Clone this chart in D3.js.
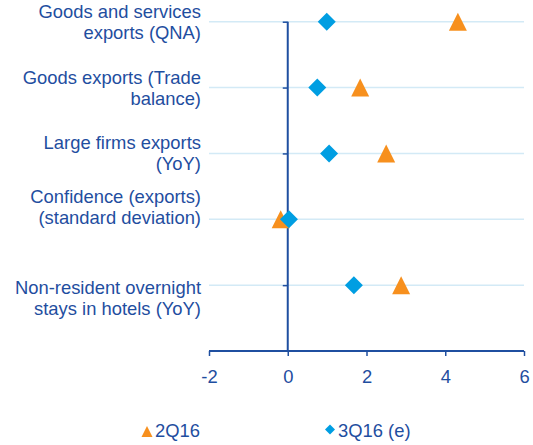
<!DOCTYPE html>
<html>
<head>
<meta charset="utf-8">
<script src="https://cdn.jsdelivr.net/npm/d3@7"></script>
<style>
  html, body { margin: 0; padding: 0; background: #fff; }
  svg { display: block; font-family: "Liberation Sans", Arial, sans-serif; }
</style>
</head>
<body>
<svg id="chart"></svg>
<script>
// data
const categories = [
  ["Goods and services", "exports (QNA)"],
  ["Goods exports (Trade", "balance)"],
  ["Large firms exports", "(YoY)"],
  ["Confidence (exports)", "(standard deviation)"],
  ["Non-resident overnight", "stays in hotels (YoY)"]
];
const seriesNames = ["2Q16", "3Q16 (e)"];
const values2Q16 = [4.32, 1.84, 2.50, -0.18, 2.88];
const values3Q16 = [0.99, 0.75, 1.05, 0.03, 1.68];
const xTicks = [-2, 0, 2, 4, 6];

// layout
const width = 533, height = 445;
const labelDy = [-3.5, -3.5, -4.5, -16, 9];   // first line baseline vs row line
const lineGap = 21;
const fontSize = 18.4;
const textColor = "#1f4e9f";
const axisColor = "#1f4fa0";
const gridColor = "#d3eaf6";
const orange = "#f7901e";
const blue = "#009ee2";

const svg = d3.select("#chart")
  .attr("width", width)
  .attr("height", height);

const x = d3.scaleLinear().domain([-2, 6]).range([209, 524]);
const y = d3.scaleLinear().domain([0, categories.length]).range([351, 21.7]);
const rowY = i => y(categories.length - i);

// triangle with equal width and height, centered on its box
const triangle = {
  draw(ctx, size) {
    const s = Math.sqrt(size) / 2;
    ctx.moveTo(0, -s);
    ctx.lineTo(s, s);
    ctx.lineTo(-s, s);
    ctx.closePath();
  }
};
const diamond = {
  draw(ctx, size) {
    const s = Math.sqrt(size) / 2;
    ctx.moveTo(0, -s);
    ctx.lineTo(s, 0);
    ctx.lineTo(0, s);
    ctx.lineTo(-s, 0);
    ctx.closePath();
  }
};

// gridlines
svg.append("g")
  .selectAll("line")
  .data(categories)
  .join("line")
  .attr("x1", x(-2))
  .attr("x2", x(6))
  .attr("y1", (d, i) => rowY(i))
  .attr("y2", (d, i) => rowY(i))
  .attr("stroke", gridColor)
  .attr("stroke-width", 1.5);

// vertical axis at zero
const yAxis = svg.append("g")
  .attr("transform", `translate(${x(0)},0)`)
  .call(d3.axisLeft(y).tickValues(d3.range(1, categories.length + 1)).tickSize(5).tickFormat(""));
yAxis.select(".domain").remove();
yAxis.selectAll(".tick line").attr("stroke", axisColor).attr("stroke-width", 1.5);
yAxis.append("line")
  .attr("y1", y(categories.length))
  .attr("y2", y(0))
  .attr("stroke", axisColor)
  .attr("stroke-width", 2);

// horizontal axis
const xAxis = svg.append("g")
  .attr("transform", `translate(0,${y(0)})`)
  .call(d3.axisBottom(x).tickValues(xTicks).tickSize(5).tickPadding(14).tickFormat(d => String(d)));
xAxis.select(".domain")
  .attr("d", `M${x(-2)},0H${x(6)}`)
  .attr("stroke", axisColor)
  .attr("stroke-width", 2);
xAxis.selectAll(".tick line").attr("stroke", axisColor).attr("stroke-width", 1.5);
xAxis.selectAll(".tick text")
  .attr("fill", textColor)
  .attr("font-size", fontSize)
  .attr("font-family", "Liberation Sans, Arial, sans-serif");

// category labels
const labels = svg.append("g")
  .selectAll("text")
  .data(categories)
  .join("text")
  .attr("text-anchor", "end")
  .attr("fill", textColor)
  .attr("font-size", fontSize)
  .attr("x", 201)
  .attr("y", (d, i) => rowY(i) + labelDy[i]);
labels.selectAll("tspan")
  .data(d => d)
  .join("tspan")
  .attr("x", 201)
  .attr("dy", (d, j) => j === 0 ? 0 : lineGap)
  .text(d => d);

// markers
svg.append("g")
  .selectAll("path")
  .data(values2Q16)
  .join("path")
  .attr("d", d3.symbol().type(triangle).size(18 * 18))
  .attr("transform", (d, i) => `translate(${x(d)},${rowY(i)})`)
  .attr("fill", orange);

svg.append("g")
  .selectAll("path")
  .data(values3Q16)
  .join("path")
  .attr("d", d3.symbol().type(diamond).size(18 * 18))
  .attr("transform", (d, i) => `translate(${x(d)},${rowY(i)})`)
  .attr("fill", blue);

// legend
const legendItems = [
  { name: seriesNames[0], type: triangle, size: 11 * 11, color: orange, x: 147, my: 431.5 },
  { name: seriesNames[1], type: diamond, size: 10 * 10, color: blue, x: 330, my: 429.5 }
];
const legend = svg.append("g")
  .selectAll("g")
  .data(legendItems)
  .join("g")
  .attr("transform", d => `translate(${d.x},0)`);
legend.append("path")
  .attr("d", d => d3.symbol().type(d.type).size(d.size)())
  .attr("transform", d => `translate(0,${d.my})`)
  .attr("fill", d => d.color);
legend.append("text")
  .attr("x", 8)
  .attr("y", 437)
  .attr("fill", textColor)
  .attr("font-size", fontSize)
  .text(d => d.name);
</script>
</body>
</html>
